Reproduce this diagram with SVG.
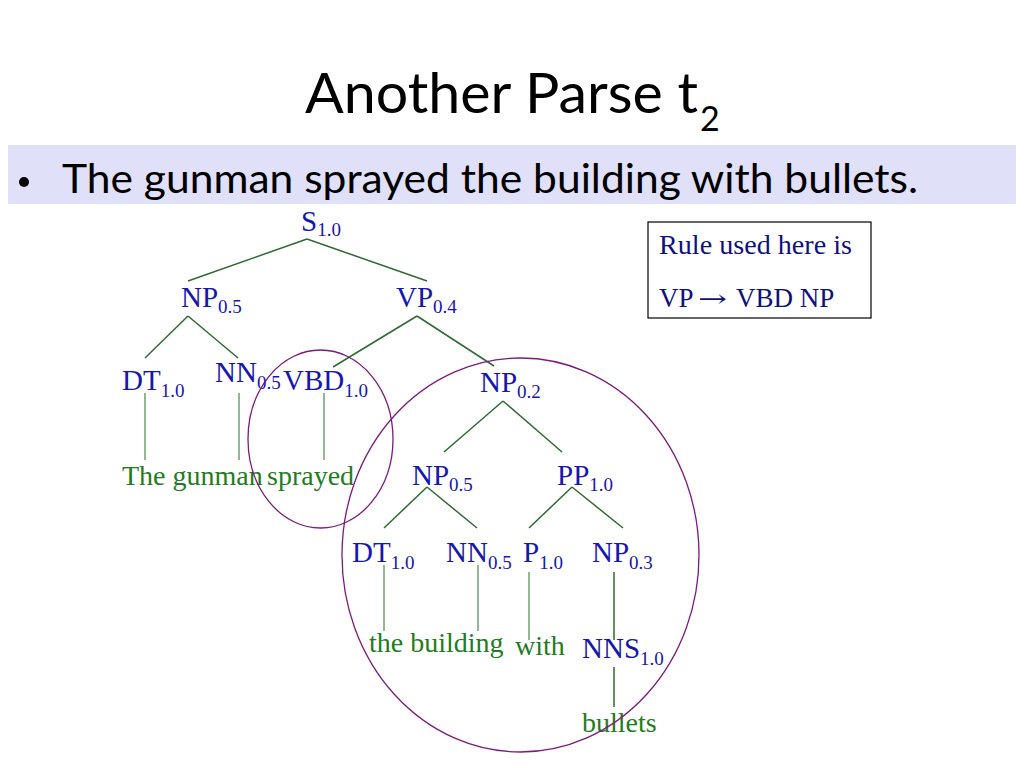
<svg xmlns="http://www.w3.org/2000/svg" width="1024" height="768" viewBox="0 0 1024 768">
<style>
.title{font-family:Lato,"Open Sans",sans-serif;fill:#000}
.lbl{font-family:"Liberation Serif","Times New Roman",serif;font-size:29px;fill:#1616b0}
.sub{font-size:19px}
.word{font-family:"Liberation Serif","Times New Roman",serif;font-size:28px;fill:#1e7d1e}
.rule{font-family:"Liberation Serif","Times New Roman",serif;font-size:27px;fill:#101080}
.edge{stroke:#2e6b2e;stroke-width:1.5;fill:none}
.lex{stroke:#4a8a4a;stroke-width:1.2;fill:none}
.ring{stroke:#7d1a7d;stroke-width:1.3;fill:none}
</style>
<rect width="1024" height="768" fill="#fff"/>
<g id="title">
<text class="title" x="305" y="113" font-size="57" textLength="393" lengthAdjust="spacingAndGlyphs">Another Parse t</text>
<text class="title" x="700" y="131" font-size="34">2</text>
</g>
<g id="sentence">
<rect x="8" y="145" width="1008" height="59" fill="#e0e0f8"/>
<circle cx="24" cy="182" r="5" fill="#000"/>
<text class="title" x="62" y="193" font-size="40" textLength="856" lengthAdjust="spacingAndGlyphs">The gunman sprayed the building with bullets.</text>
</g>
<g id="connectors">
<line class="edge" x1="307" y1="239" x2="188" y2="281"/>
<line class="edge" x1="307" y1="239" x2="427" y2="281"/>
<line class="edge" x1="188" y1="316" x2="145" y2="358"/>
<line class="edge" x1="188" y1="316" x2="238" y2="358"/>
<line class="edge" x1="417" y1="316" x2="333" y2="367"/>
<line class="edge" x1="417" y1="316" x2="494" y2="366"/>
<line class="edge" x1="503" y1="401" x2="444" y2="452"/>
<line class="edge" x1="503" y1="401" x2="562" y2="452"/>
<line class="edge" x1="427" y1="487" x2="384" y2="528"/>
<line class="edge" x1="427" y1="487" x2="477" y2="528"/>
<line class="edge" x1="572" y1="487" x2="529" y2="528"/>
<line class="edge" x1="572" y1="487" x2="623" y2="528"/>
<line class="lex" x1="145" y1="393" x2="145" y2="460"/>
<line class="lex" x1="239" y1="393" x2="239" y2="460"/>
<line class="lex" x1="324" y1="393" x2="324" y2="460"/>
<line class="lex" x1="384" y1="565" x2="384" y2="631"/>
<line class="lex" x1="478" y1="565" x2="478" y2="631"/>
<line class="lex" x1="529" y1="572" x2="529" y2="640"/>
<line class="edge" x1="614" y1="572" x2="614" y2="640"/>
<line class="edge" x1="614" y1="667" x2="614" y2="707"/>
</g>
<g id="n-S"><text class="lbl" x="301" y="231">S<tspan class="sub" dy="5">1.0</tspan></text></g>
<g id="n-NP1"><text class="lbl" x="181" y="307">NP<tspan class="sub" dy="6">0.5</tspan></text></g>
<g id="n-VP"><text class="lbl" x="396" y="307">VP<tspan class="sub" dy="6">0.4</tspan></text></g>
<g id="n-DT1"><text class="lbl" x="122" y="390">DT<tspan class="sub" dy="7">1.0</tspan></text></g>
<g id="n-NN1"><text class="lbl" x="215" y="382">NN<tspan class="sub" dy="7">0.5</tspan></text></g>
<g id="n-VBD"><text class="lbl" x="283" y="390">VBD<tspan class="sub" dy="7">1.0</tspan></text></g>
<g id="n-NP2"><text class="lbl" x="480" y="392">NP<tspan class="sub" dy="6">0.2</tspan></text></g>
<g id="n-NP3"><text class="lbl" x="412" y="485">NP<tspan class="sub" dy="6">0.5</tspan></text></g>
<g id="n-PP"><text class="lbl" x="557" y="485">PP<tspan class="sub" dy="6">1.0</tspan></text></g>
<g id="n-DT2"><text class="lbl" x="352" y="562">DT<tspan class="sub" dy="7">1.0</tspan></text></g>
<g id="n-NN2"><text class="lbl" x="446" y="562">NN<tspan class="sub" dy="7">0.5</tspan></text></g>
<g id="n-P"><text class="lbl" x="523" y="562">P<tspan class="sub" dy="7">1.0</tspan></text></g>
<g id="n-NP4"><text class="lbl" x="592" y="562">NP<tspan class="sub" dy="7">0.3</tspan></text></g>
<g id="n-NNS"><text class="lbl" x="582" y="658">NNS<tspan class="sub" dy="7">1.0</tspan></text></g>
<g id="w-the-gunman"><text class="word" x="122" y="485">The gunman</text></g>
<g id="w-sprayed"><text class="word" x="267" y="485">sprayed</text></g>
<g id="w-the-building"><text class="word" x="369" y="652">the building</text></g>
<g id="w-with"><text class="word" x="515" y="655">with</text></g>
<g id="w-bullets"><text class="word" x="582" y="732">bullets</text></g>
<g id="highlights">
<ellipse class="ring" cx="320.5" cy="439" rx="72.5" ry="89"/>
<ellipse class="ring" cx="520.5" cy="555" rx="178.5" ry="197"/>
</g>
<g id="rule-box">
<rect x="648" y="222" width="223" height="96" fill="#fff" stroke="#000" stroke-width="1.2"/>
<text class="rule" x="659" y="254" textLength="193" lengthAdjust="spacingAndGlyphs">Rule used here is</text>
<text class="rule" x="659" y="307">VP<tspan x="698" textLength="29" lengthAdjust="spacingAndGlyphs" font-family="'DejaVu Serif',serif" font-size="24">→</tspan><tspan x="736">VBD NP</tspan></text>
</g>
</svg>
